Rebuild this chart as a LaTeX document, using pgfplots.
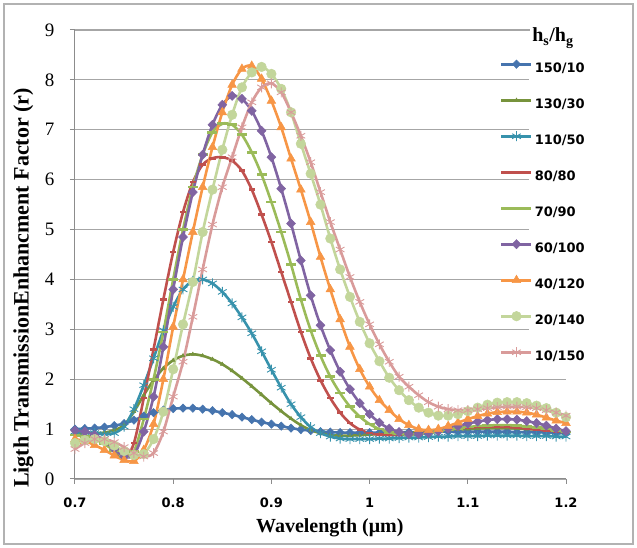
\documentclass[border=0pt]{standalone}
\usepackage{fontspec}
\setmainfont{Liberation Serif}
\newfontfamily\sansfont{DejaVu Sans}
\usepackage{pgfplots}
\usepackage{pgfplotstable}
\pgfplotsset{compat=1.18}

\definecolor{sA}{HTML}{4674AE}
\definecolor{sB}{HTML}{77933C}
\definecolor{sC}{HTML}{3792AC}
\definecolor{sD}{HTML}{C0504D}
\definecolor{sE}{HTML}{9BBB59}
\definecolor{sF}{HTML}{8064A2}
\definecolor{sG}{HTML}{F79646}
\definecolor{sH}{HTML}{C3D69B}
\definecolor{sK}{HTML}{D99B9A}
\definecolor{axgray}{HTML}{8C8C8C}
\definecolor{grgray}{HTML}{A6A6A6}

% x = wavelength (um); a..k = enhancement factor for hs/hg
\pgfplotstableread{
x    a    b    c    d    e    f    g    h    k
0.70 1.00 0.93 0.95 0.88 0.88 0.97 0.80 0.72 0.60
0.71 1.01 0.92 0.94 0.86 0.85 0.95 0.76 0.78 0.72
0.72 1.02 0.92 0.92 0.81 0.80 0.88 0.68 0.80 0.80
0.73 1.04 0.93 0.90 0.71 0.70 0.76 0.58 0.76 0.80
0.74 1.07 0.98 0.92 0.57 0.57 0.60 0.47 0.67 0.74
0.75 1.11 1.08 1.05 0.40 0.45 0.45 0.38 0.56 0.64
0.76 1.18 1.35 1.40 0.72 0.55 0.48 0.36 0.48 0.52
0.77 1.26 1.68 1.88 1.62 1.20 0.95 0.58 0.50 0.45
0.78 1.33 1.98 2.42 2.60 2.00 1.65 1.10 0.80 0.52
0.79 1.38 2.22 2.98 3.60 2.95 2.65 2.00 1.35 0.95
0.80 1.41 2.38 3.45 4.55 4.00 3.80 3.05 2.20 1.65
0.81 1.42 2.47 3.80 5.35 5.00 4.85 4.00 3.10 2.35
0.82 1.42 2.50 3.97 5.95 5.85 5.75 4.95 3.95 3.25
0.83 1.40 2.47 4.00 6.30 6.50 6.50 5.85 4.95 4.20
0.84 1.37 2.40 3.92 6.43 6.95 7.10 6.65 5.80 5.10
0.85 1.33 2.30 3.75 6.45 7.12 7.50 7.35 6.60 5.85
0.86 1.29 2.17 3.52 6.38 7.10 7.68 7.90 7.30 6.45
0.87 1.24 2.02 3.24 6.18 6.90 7.62 8.22 7.85 7.05
0.88 1.19 1.86 2.92 5.80 6.55 7.38 8.28 8.15 7.55
0.89 1.14 1.69 2.56 5.30 6.10 6.98 8.02 8.26 7.85
0.90 1.10 1.52 2.19 4.75 5.55 6.45 7.58 8.12 7.93
0.91 1.06 1.36 1.83 4.15 4.95 5.82 7.05 7.82 7.75
0.92 1.02 1.21 1.50 3.55 4.30 5.12 6.42 7.35 7.35
0.93 0.99 1.08 1.24 2.95 3.60 4.38 5.80 6.72 6.88
0.94 0.97 0.98 1.04 2.42 2.98 3.68 5.15 6.12 6.35
0.95 0.95 0.92 0.92 1.98 2.47 3.08 4.45 5.50 5.75
0.96 0.94 0.88 0.85 1.62 2.05 2.58 3.80 4.82 5.15
0.97 0.93 0.87 0.81 1.33 1.72 2.15 3.20 4.20 4.60
0.98 0.93 0.87 0.80 1.12 1.45 1.80 2.65 3.65 4.05
0.99 0.93 0.88 0.80 0.99 1.25 1.52 2.20 3.15 3.55
1.00 0.93 0.89 0.80 0.92 1.10 1.30 1.85 2.72 3.10
1.01 0.93 0.90 0.81 0.89 1.00 1.13 1.58 2.36 2.70
1.02 0.93 0.91 0.81 0.88 0.93 1.01 1.38 2.03 2.35
1.03 0.94 0.92 0.82 0.88 0.90 0.94 1.20 1.78 2.05
1.04 0.94 0.93 0.83 0.89 0.89 0.90 1.08 1.58 1.85
1.05 0.94 0.94 0.83 0.91 0.90 0.90 1.00 1.43 1.68
1.06 0.95 0.95 0.84 0.93 0.92 0.92 0.98 1.33 1.54
1.07 0.95 0.97 0.85 0.96 0.95 0.96 1.00 1.27 1.45
1.08 0.95 0.98 0.85 0.99 0.98 1.01 1.06 1.27 1.40
1.09 0.95 0.99 0.86 1.01 1.01 1.06 1.13 1.30 1.38
1.10 0.95 1.00 0.86 1.03 1.04 1.11 1.20 1.36 1.38
1.11 0.95 1.01 0.86 1.04 1.06 1.15 1.26 1.43 1.40
1.12 0.95 1.02 0.87 1.05 1.07 1.18 1.31 1.49 1.42
1.13 0.95 1.02 0.87 1.05 1.08 1.20 1.34 1.53 1.44
1.14 0.95 1.02 0.87 1.04 1.08 1.20 1.35 1.54 1.45
1.15 0.94 1.01 0.87 1.03 1.07 1.19 1.35 1.54 1.45
1.16 0.94 1.00 0.86 1.01 1.05 1.16 1.33 1.52 1.44
1.17 0.94 0.99 0.86 0.99 1.03 1.12 1.29 1.47 1.42
1.18 0.93 0.98 0.86 0.97 1.00 1.07 1.23 1.42 1.38
1.19 0.93 0.96 0.85 0.95 0.97 1.01 1.17 1.33 1.33
1.20 0.92 0.95 0.85 0.93 0.94 0.96 1.12 1.24 1.27
}\enh

\begin{document}
\begin{tikzpicture}
\path[use as bounding box] (-75pt,-69pt) rectangle (562pt,479pt);
\draw[gray!60, line width=1.2pt] (-71pt,-65pt) rectangle (558pt,475pt);
\begin{axis}[
  at={(0pt,0pt)}, anchor=south west,
  scale only axis, width=491pt, height=449pt,
  xmin=0.7, xmax=1.2, ymin=0, ymax=9,
  xtick={0.7,0.8,0.9,1,1.1,1.2},
  xticklabels={0.7,0.8,0.9,1,1.1,1.2},
  ytick={0,1,2,3,4,5,6,7,8,9},
  axis lines=left,
  axis line style={draw=axgray, line width=1pt, -},
  tick align=outside, major tick length=5pt,
  tick style={draw=axgray, line width=1pt},
  ymajorgrids, grid style={draw=grgray, line width=1.1pt},
  xticklabel style={font=\sansfont\bfseries\fontsize{13}{13}\selectfont, yshift=-10pt},
  yticklabel style={font=\fontsize{19}{19}\selectfont, xshift=-12pt},
  /pgf/number format/assume math mode=true,
  xlabel={Wavelength (μm)},
  xlabel style={at={(axis description cs:0.519,-0.108)}, anchor=center,
    font=\bfseries\fontsize{20}{20}\selectfont},
  ylabel={Ligth TransmissionEnhancment Factor (r)},
  ylabel style={at={(axis description cs:-0.1049,0.4254)}, anchor=center,
    font=\bfseries\fontsize{22}{22}\selectfont},
  clip=false,
  every axis plot/.append style={line width=2.6pt, smooth},
  legend cell align=left,
  legend style={at={(rel axis cs:0.9246,0.9354)}, anchor=north west,
    draw=none, fill=white, inner sep=0pt, row sep=18pt,
    font=\sansfont\bfseries\fontsize{13}{13}\selectfont,
    nodes={inner sep=3pt, text height=10pt, text depth=2pt}},
  legend image code/.code={
    \path (0pt,0pt);
    \draw[mark repeat=2, mark phase=2, #1, overlay]
      plot coordinates {(-29pt,4pt) (-14pt,4pt) (1pt,4pt)};
  },
]
\addplot[sA, mark=diamond*, mark size=4.2pt, mark options={solid, xscale=1.3, line width=0.5pt}] table[x=x, y=a] {\enh};
\addplot[sB, mark=triangle*, mark size=2.2pt, mark options={solid, line width=0.5pt}] table[x=x, y=b] {\enh};
\addplot[sC, mark=asterisk, mark size=5pt, mark options={solid, line width=0.9pt}] table[x=x, y=c] {\enh};
\addplot[sD, mark=-, mark size=3.2pt, mark options={solid, line width=2.6pt}] table[x=x, y=d] {\enh};
\addplot[sE, mark=-, mark size=5pt, mark options={solid, line width=2.6pt}] table[x=x, y=e] {\enh};
\addplot[sF, mark=diamond*, mark size=4.6pt, mark options={solid, xscale=1.3, line width=0.5pt}] table[x=x, y=f] {\enh};
\addplot[sG, mark=triangle*, mark size=5pt, mark options={solid, line width=0.5pt}] table[x=x, y=g] {\enh};
\addplot[sH, mark=*, mark size=4.8pt, mark options={solid, line width=0.5pt}] table[x=x, y=h] {\enh};
\addplot[sK, mark=asterisk, mark size=5pt, mark options={solid, line width=0.9pt}] table[x=x, y=k] {\enh};
\legend{150/10,130/30,110/50,80/80,70/90,60/100,40/120,20/140,10/150}
\node[fill=white, inner sep=2pt, font=\bfseries\fontsize{20}{20}\selectfont]
  at (rel axis cs:0.9735,0.982) {h\textsubscript{s}/h\textsubscript{g}};
\end{axis}
\end{tikzpicture}
\end{document}
